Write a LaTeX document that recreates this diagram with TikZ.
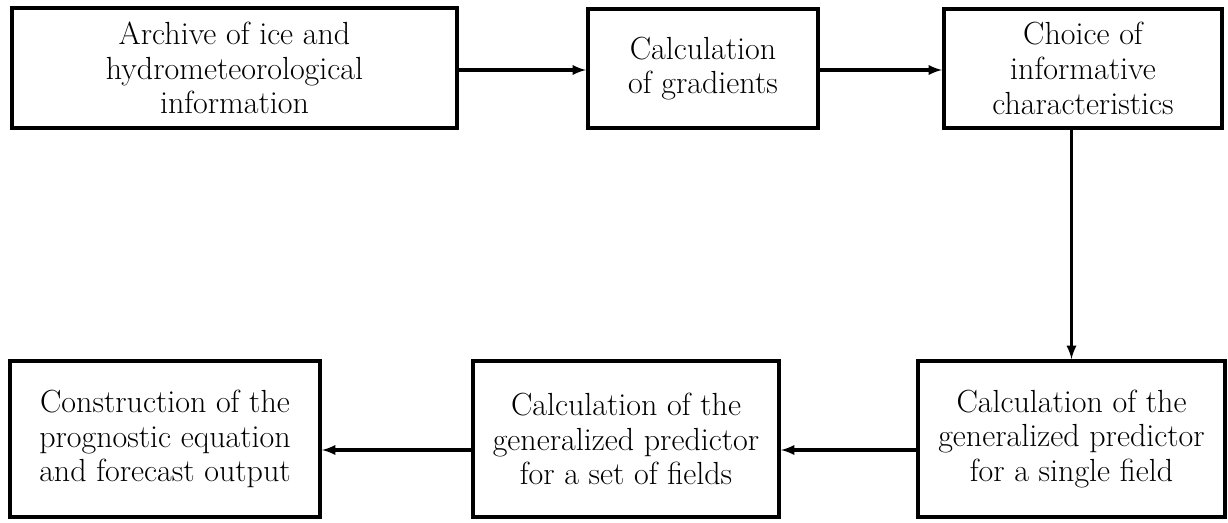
\documentclass[tikz,border=0pt]{standalone}
\usepackage{tikz}
\usetikzlibrary{arrows,positioning}

\begin{document}
\begin{tikzpicture}
  [x=0.75pt,y=-0.75pt,>=latex,
   block/.style={rectangle,draw=black,line width=3pt,fill=white,align=center,
     font=\fontsize{24}{26}\selectfont,inner sep=0pt},
   link/.style={line width=2.4pt}]
  \useasboundingbox (0,0) rectangle (1228,522);
  \node[block,minimum width=333.75pt,minimum height=90pt] (archive) at (234.5,68)
    {Archive of ice and\\hydrometeorological\\information};
  \node[block,minimum width=172.5pt,minimum height=89.25pt] (gradients) at (703,68.5)
    {Calculation\\of gradients};
  \node[block,minimum width=208.5pt,minimum height=89.25pt] (choice) at (1083,68.5)
    {Choice of\\informative\\characteristics};
  \node[block,minimum width=230.25pt,minimum height=117pt] (single) at (1071.5,439)
    {Calculation of the\\generalized predictor\\for a single field};
  \node[block,minimum width=229.5pt,minimum height=117pt] (set) at (626,439)
    {Calculation of the\\generalized predictor\\for a set of fields};
  \node[block,minimum width=232.5pt,minimum height=117pt] (construct) at (165,439)
    {Construction of the\\prognostic equation\\and forecast output};
  \draw [link,->] (archive.east |- 0,70) -- (gradients.west |- 0,70);
  \draw [link,->] (gradients.east |- 0,70) -- (choice.west |- 0,70);
  \draw [link,->] (single.north |- choice.south) -- (single.north);
  \draw [link,->] (single.west |- 0,450) -- (set.east |- 0,450);
  \draw [link,->] (set.west |- 0,450) -- (construct.east |- 0,450);
\end{tikzpicture}
\end{document}
